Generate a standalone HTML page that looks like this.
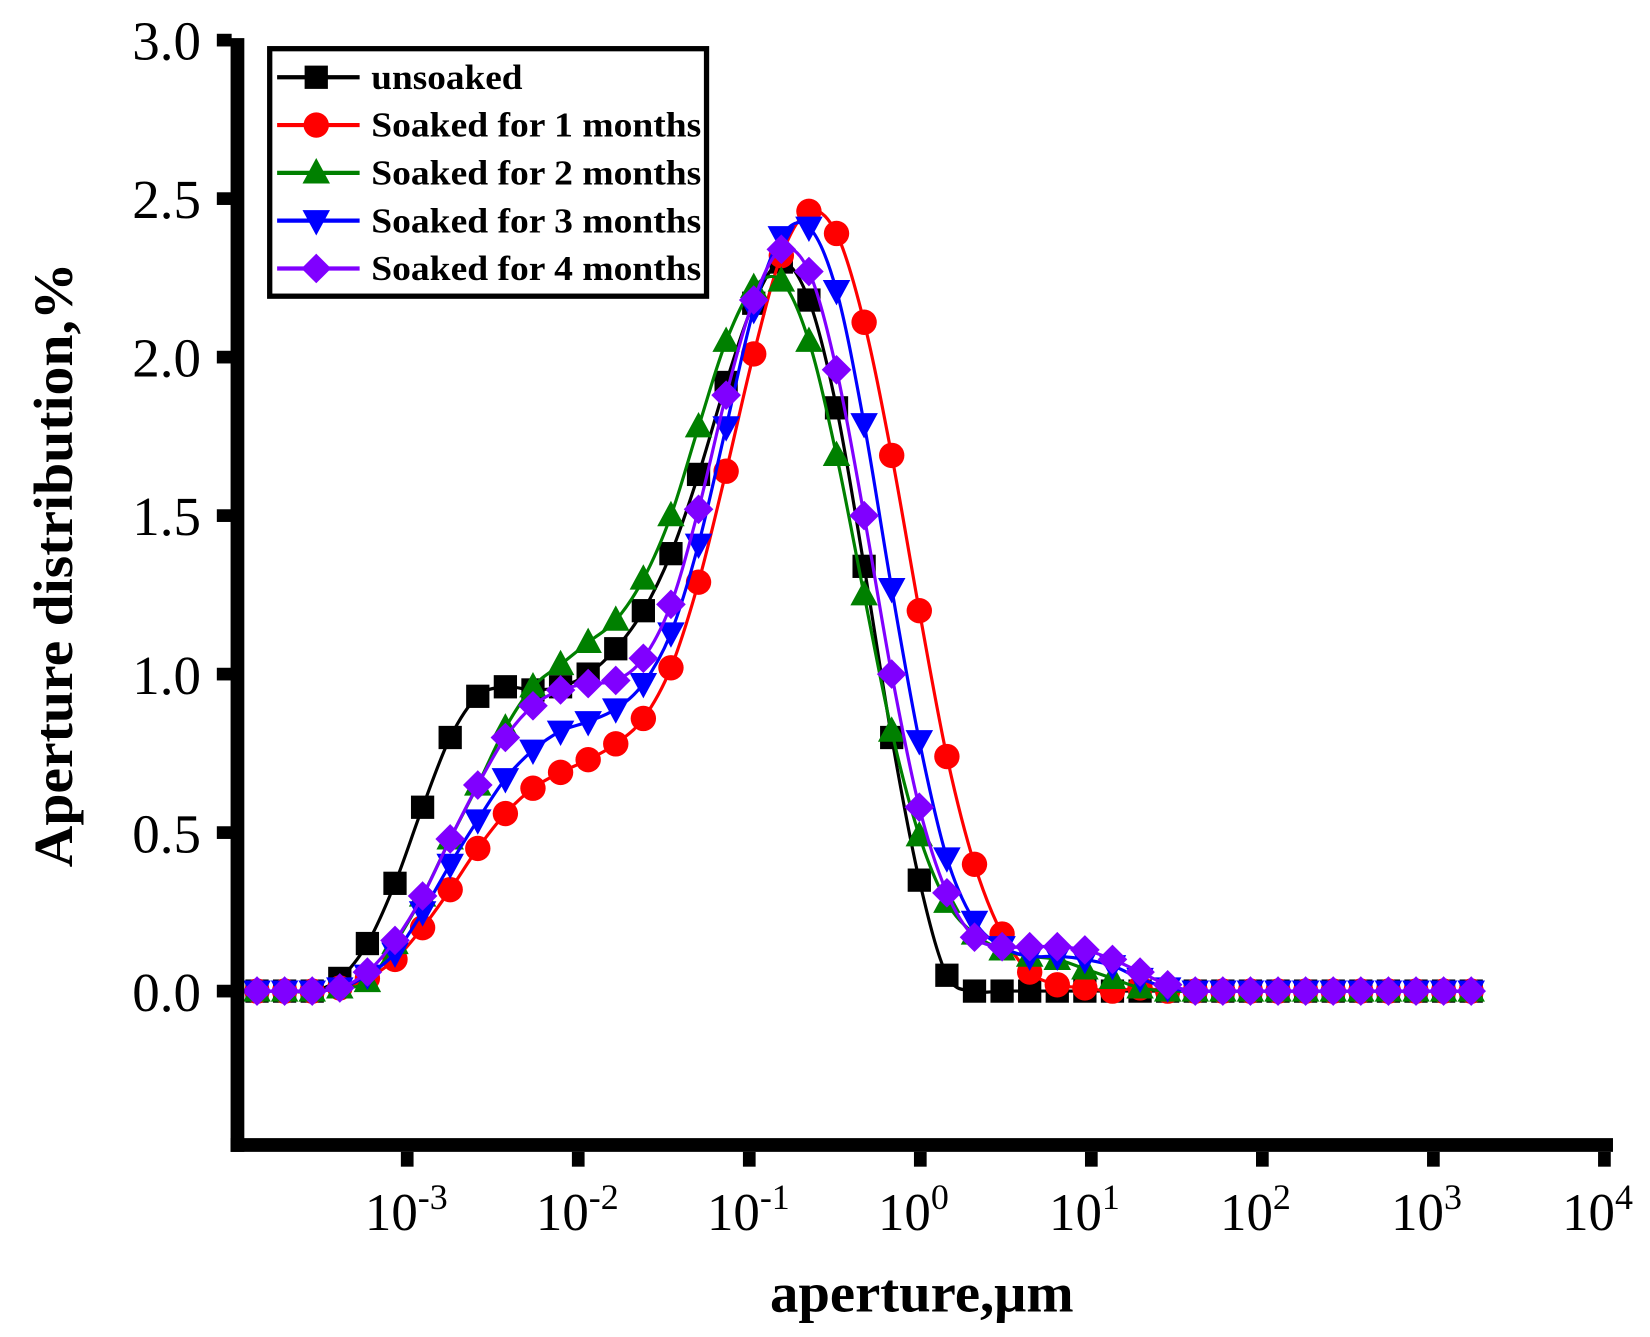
<!DOCTYPE html>
<html><head><meta charset="utf-8"><style>html,body{margin:0;padding:0;background:#fff}svg{display:block}</style></head>
<body>
<svg id="s" width="1650" height="1337" viewBox="0 0 1560 1264" xmlns="http://www.w3.org/2000/svg" font-family="Liberation Serif, serif">
<rect width="1560" height="1264" fill="#fff"/>
<g id="plot"></g>
<rect x="218" y="36" width="13" height="1053" fill="#000"/>
<rect x="218" y="1076" width="1307" height="13" fill="#000"/>
<g id="ticks"></g>
<g font-size="52" text-anchor="end">
<text x="190" y="956">0.0</text><text x="190" y="806">0.5</text><text x="190" y="656">1.0</text>
<text x="190" y="506">1.5</text><text x="190" y="356">2.0</text><text x="190" y="206">2.5</text><text x="190" y="56">3.0</text>
</g>
<g id="xl" font-size="50"></g>
<text x="728" y="1240" font-size="52" font-weight="bold" textLength="287" lengthAdjust="spacingAndGlyphs">aperture,μm</text>
<text transform="translate(68,820) rotate(-90)" font-size="52" font-weight="bold" textLength="572" lengthAdjust="spacingAndGlyphs">Aperture distribution,%</text>
<rect x="255" y="46" width="413" height="234" fill="#fff" stroke="#000" stroke-width="5"/>
<g id="leg" font-size="33" font-weight="bold"></g>
</svg>
<script>
const NS="http://www.w3.org/2000/svg";
function el(t,a,p){const e=document.createElementNS(NS,t);for(const k in a)e.setAttribute(k,a[k]);p.appendChild(e);return e;}
const ticks=document.getElementById('ticks');
for(let v=0;v<=3.0001;v+=0.5){const y=937-v*299.7;el('rect',{x:205,y:y-6,width:14,height:12,fill:'#000'},ticks);}
const xl=document.getElementById('xl');
for(let d=-3;d<=4;d++){const x=385+(d+3)*161.7;el('rect',{x:x-6,y:1089,width:12,height:14,fill:'#000'},ticks);
 const t=el('text',{x:x-40,y:1163},xl);t.textContent='10';const s=el('tspan',{'font-size':'34',dy:'-20'},t);s.textContent=(d<0?'-':'')+Math.abs(d);}
function pad(a){while(a.length<45)a.push(0);return a;}
const S=[
 ['#000','sq',pad([0,0,0,0.04,0.15,0.34,0.58,0.80,0.93,0.96,0.95,0.96,1.00,1.08,1.20,1.38,1.63,1.92,2.17,2.30,2.18,1.84,1.34,0.80,0.35,0.05,0,0,0,0])],
 ['#f00','ci',pad([0,0,0,0.01,0.04,0.10,0.20,0.32,0.45,0.56,0.64,0.69,0.73,0.78,0.86,1.02,1.29,1.64,2.01,2.32,2.46,2.39,2.11,1.69,1.20,0.74,0.40,0.18,0.06,0.02,0.01,0,0.01,0])],
 ['#008000','tu',pad([0,0,0,0.01,0.03,0.15,0.30,0.48,0.65,0.83,0.96,1.03,1.10,1.17,1.30,1.50,1.78,2.05,2.22,2.24,2.05,1.69,1.25,0.82,0.49,0.28,0.18,0.13,0.11,0.10,0.07,0.04,0.01,0])],
 ['#00f','td',pad([0,0,0,0.01,0.05,0.12,0.25,0.40,0.54,0.67,0.76,0.82,0.85,0.89,0.97,1.13,1.41,1.78,2.15,2.38,2.41,2.21,1.79,1.27,0.79,0.42,0.22,0.14,0.11,0.11,0.10,0.08,0.04,0.01,0])],
 ['#8000ff','di',pad([0,0,0,0.01,0.06,0.16,0.30,0.48,0.65,0.80,0.90,0.95,0.97,0.98,1.05,1.22,1.52,1.88,2.18,2.34,2.27,1.96,1.50,1.00,0.58,0.31,0.17,0.14,0.14,0.14,0.13,0.10,0.06,0.02,0])]
];
function marker(type,x,y,c,p){
 if(type=='sq')el('rect',{x:x-11,y:y-11,width:22,height:22,fill:c},p);
 else if(type=='ci')el('circle',{cx:x,cy:y,r:12,fill:c},p);
 else if(type=='tu')el('polygon',{points:`${x},${y-14} ${x-13},${y+10} ${x+13},${y+10}`,fill:c},p);
 else if(type=='td')el('polygon',{points:`${x},${y+14} ${x-13},${y-10} ${x+13},${y-10}`,fill:c},p);
 else el('polygon',{points:`${x},${y-14} ${x+14},${y} ${x},${y+14} ${x-14},${y}`,fill:c},p);
}
const plot=document.getElementById('plot');
S.forEach(([c,t,v])=>{
 const P=v.map((d,i)=>[243+26.09*i,937-d*299.7]);
 let d=`M${P[0][0]},${P[0][1]}`;
 for(let i=0;i<P.length-1;i++){const p0=P[Math.max(0,i-1)],p1=P[i],p2=P[i+1],p3=P[Math.min(P.length-1,i+2)];
  d+=` C${p1[0]+(p2[0]-p0[0])/6},${p1[1]+(p2[1]-p0[1])/6} ${p2[0]-(p3[0]-p1[0])/6},${p2[1]-(p3[1]-p1[1])/6} ${p2[0]},${p2[1]}`;}
 el('path',{d:d,fill:'none',stroke:c,'stroke-width':3},plot);
 P.forEach(p=>marker(t,p[0],p[1],c,plot));
});
const leg=document.getElementById('leg');
const names=['unsoaked','Soaked for 1 months','Soaked for 2 months','Soaked for 3 months','Soaked for 4 months'];
S.forEach(([c,t],i)=>{const y=73+45.2*i;
 el('line',{x1:262,y1:y,x2:340,y2:y,stroke:c,'stroke-width':4},leg);marker(t,299,y,c,leg);
 const a={x:351,y:y+11};a.textLength=i==0?143:312;a.lengthAdjust='spacingAndGlyphs';
 const tx=el('text',a,leg);tx.textContent=names[i];});
</script>
</body></html>
